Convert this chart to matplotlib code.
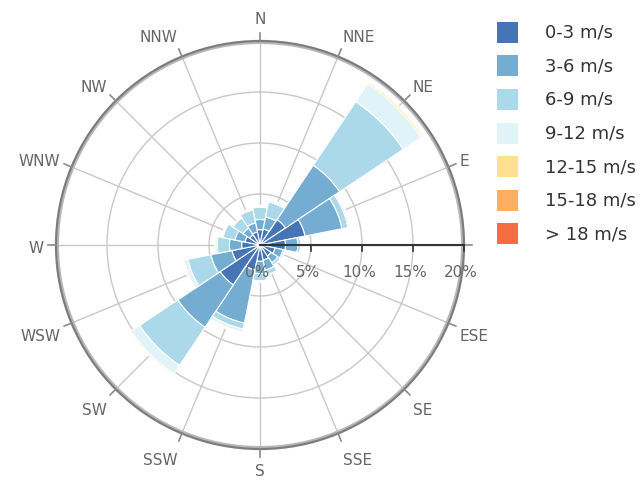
import numpy as np
import matplotlib
matplotlib.use("Agg")
import matplotlib.pyplot as plt
from matplotlib.patches import Rectangle

# ---- data ----
directions = ['N', 'NNE', 'NE', 'ENE', 'E', 'ESE', 'SE', 'SSE',
              'S', 'SSW', 'SW', 'WSW', 'W', 'WNW', 'NW', 'NNW']
dir_labels = ['N', 'NNE', 'NE', 'E', '', 'ESE', 'SE', 'SSE',
              'S', 'SSW', 'SW', 'WSW', 'W', 'WNW', 'NW', 'NNW']
series_names = ['0-3 m/s', '3-6 m/s', '6-9 m/s', '9-12 m/s',
                '12-15 m/s', '15-18 m/s', '> 18 m/s']
series_colors = ['#4575b4', '#74add1', '#abd9e9', '#e0f3f8',
                 '#fee090', '#fdae61', '#f46d43']
s0_3 = [1.5, 1.6, 3.0, 4.5, 2.5, 1.5, 1.3, 1.5, 1.6, 2.5, 4.7, 2.8, 1.8, 1.5, 1.2, 1.3]
s3_6 = [1.0, 1.2, 6.4, 3.7, 1.2, 0.8, 0.8, 1.0, 1.2, 5.3, 5.0, 2.1, 1.2, 1.0, 0.8, 0.9]
s6_9 = [1.2, 1.5, 7.5, 0.6, 0.3, 0.2, 0.3, 0.5, 0.7, 0.6, 4.5, 2.3, 1.2, 1.2, 1.2, 1.3]
s9_12 = [0.1, 0.2, 2.1, 0.2, 0.0, 0.0, 0.0, 0.0, 0.1, 0.3, 1.0, 0.4, 0.2, 0.1, 0.1, 0.1]
s12_15 = [0.0, 0.0, 0.2, 0.0, 0.0, 0.0, 0.0, 0.0, 0.0, 0.1, 0.15, 0.1, 0.0, 0.0, 0.0, 0.0]
s15_18 = [0.0] * 16
s18p = [0.0] * 16
series = [s0_3, s3_6, s6_9, s9_12, s12_15, s15_18, s18p]
y_ticks = [0, 5, 10, 15, 20]
y_tick_labels = ['0%', '5%', '10%', '15%', '20%']

# ---- figure ----
W, H = 641, 481
fig = plt.figure(figsize=(W / 100, H / 100), dpi=100)
cx, cy, R = 260, 246, 204
ax = fig.add_axes([(cx - R) / W, (H - cy - R) / H, 2 * R / W, 2 * R / H],
                  projection='polar')
ax.set_theta_zero_location('N')
ax.set_theta_direction(-1)
rmax = 20
ax.set_ylim(0, rmax)

n = len(directions)
theta = np.arange(n) * 2 * np.pi / n
width = 2 * np.pi / n

ax.set_xticks(theta)
ax.set_xticklabels([])
ax.set_yticks([5, 10, 15])
ax.set_yticklabels([])
ax.grid(True, color='#c8c8c8', linewidth=1.0)
ax.set_axisbelow(True)
ax.spines['polar'].set_color('#7c7c7c')
ax.spines['polar'].set_linewidth(1.6)
ax.tick_params(length=0)

# inner lighter edge of the ring
ring_t = np.linspace(0, 2 * np.pi, 400)
ax.plot(ring_t, np.full_like(ring_t, rmax - 1.8 / R * rmax), color='#b8b8b8',
        lw=1.8, zorder=1.5)

bottom = np.zeros(n)
for vals, col, name in zip(series, series_colors, series_names):
    v = np.array(vals)
    ax.bar(theta, v, width=width, bottom=bottom, color=col,
           edgecolor='white', linewidth=0.8, align='center', label=name, zorder=2)
    bottom = bottom + v

# outer ticks on the direction axis
tick_len = 8 / R * rmax
for t in theta:
    ax.plot([t, t], [rmax, rmax + tick_len], color='#8a8a8a', lw=1.2,
            clip_on=False, zorder=3)

# direction labels
for t, lab in zip(theta, dir_labels):
    if not lab:
        continue
    s, c = np.sin(t), np.cos(t)
    ha = 'left' if s > 0.1 else ('right' if s < -0.1 else 'center')
    y_screen = min(cy - 229 * c + 3, H - 9)
    ax.annotate(lab, xy=(0, 0), xytext=(216 * s, cy - y_screen),
                textcoords='offset pixels', ha=ha, va='center',
                fontsize=11, color='#666666', annotation_clip=False)

# y axis line along E
ax.plot([np.pi / 2, np.pi / 2], [0, rmax], color='#333333', lw=1.5,
        zorder=4, clip_on=False)
d = 6 / R * rmax
for yt, yl in zip(y_ticks, y_tick_labels):
    if yt > 0:
        r2 = np.hypot(yt, d)
        t2 = np.pi / 2 + np.arctan2(d, yt)
        ax.plot([np.pi / 2, t2], [yt, r2], color='#333333', lw=1.2,
                zorder=4, clip_on=False)
    ax.annotate(yl, xy=(np.pi / 2, yt), xytext=(-3, -27),
                textcoords='offset pixels', ha='center', va='center',
                fontsize=11, color='#666666', zorder=5, annotation_clip=False)

# legend (drawn in figure pixels)
row_y = [33, 66.5, 100, 134, 167.5, 201, 234.5]
for yy, col, name in zip(row_y, series_colors, series_names):
    fig.patches.append(Rectangle((497 / W, (H - yy - 10.5) / H), 21 / W, 21 / H,
                                 transform=fig.transFigure, facecolor=col,
                                 edgecolor='none'))
    fig.text(545 / W, (H - yy) / H, name, ha='left', va='center',
             fontsize=13, color='#333333')

fig.savefig('out.png', dpi=100)
